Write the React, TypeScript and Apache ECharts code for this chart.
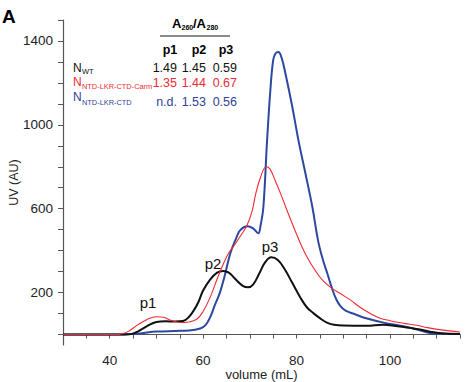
import React, { useEffect, useRef } from "react";
import * as echarts from "echarts";

const FONT = "'Liberation Sans', Arial, Helvetica, sans-serif";

// Series: [volume (mL), UV (AU)]
const wtData: [number, number][] = [
  [30, 0], [40, 0], [43.5, 0], [44.8, 3], [46, 14], [48, 40], [50, 60], [52, 63], [54, 62],
  [55.7, 64], [57, 85], [58, 115], [59, 155], [60, 210], [61.5, 262], [63, 295], [64.3, 303],
  [65.5, 295], [67, 262], [68.5, 232], [69.6, 225], [70.7, 238], [72, 290], [73.3, 345],
  [74.6, 368], [76, 355], [77.5, 310], [79, 250], [80.8, 177], [82.2, 130], [83.6, 102],
  [85, 78], [86.5, 57], [88, 47], [90, 43], [95, 42], [98.5, 47], [100, 44], [103, 36],
  [105, 29], [107, 22], [109, 12], [111, 6], [115, 3],
];

const carmData: [number, number][] = [
  [30, 0], [41, 0], [42.5, 3], [44, 15], [46, 46], [48, 72], [50, 85], [51.5, 82], [53, 68],
  [55, 57], [57, 60], [58.7, 74], [60, 110], [61.5, 177], [63, 265], [64.3, 335], [65.5, 390],
  [66.5, 420], [68, 470], [69.4, 521], [70.5, 590], [71.3, 674], [72.3, 750], [73.5, 800],
  [74.3, 790], [75.4, 736], [76.8, 660], [78.2, 578], [79.7, 495], [81.2, 416], [82.6, 355],
  [84, 306], [85.6, 258], [87.6, 220], [89.4, 195], [91.5, 165], [93.6, 130], [95.8, 100],
  [97.9, 78], [100, 66], [102, 57], [104, 50], [105.8, 44], [108, 33], [111, 22], [115, 12],
];

const ctdData: [number, number][] = [
  [30, 0], [42, 0], [44, 2], [46.5, 5], [48, 10], [50, 14], [54, 17], [57, 19], [59.4, 29],
  [60.5, 45], [61.5, 82], [62.5, 140], [63.6, 200], [64.5, 270], [65.8, 385], [67, 455],
  [67.9, 497], [69.5, 516], [70.7, 506], [71.8, 483], [72.3, 520], [72.9, 607], [73.7, 927],
  [74.4, 1166], [75, 1309], [75.5, 1340], [76.1, 1347], [76.8, 1320], [77.6, 1247], [79.1, 1085],
  [80.4, 927], [81.9, 769], [83.4, 607], [84.6, 449], [85.6, 360], [86.6, 291], [87.6, 220],
  [88.5, 168], [89.4, 135], [90.5, 114], [92.1, 100], [95.1, 76], [99.4, 53], [102, 43],
  [105, 29], [106.8, 18], [108, 10], [110, 5], [115, 2],
];

const xTickValues = [30, 35, 40, 45, 50, 55, 60, 65, 70, 75, 80, 85, 90, 95, 100, 105, 110, 115];
const xLabelValues = [40, 60, 80, 100];
const yTickValues = [0, 100, 200, 300, 400, 500, 600, 700, 800, 900, 1000, 1100, 1200, 1300, 1400, 1500];
const yLabelValues = [200, 600, 1000, 1400];

const peakLabels = ["p1", "p2", "p3"];
const ratioHeaders = ["p1", "p2", "p3"];
const wtRatios = ["1.49", "1.45", "0.59"];
const carmRatios = ["1.35", "1.44", "0.67"];
const ctdRatios = ["n.d.", "1.53", "0.56"];

const BLACK = "#111111";
const RED = "#ee2b33";
const BLUE = "#2c48a0";
const BLUE_TXT = "#2f3f9c";

export default function App() {
  const ref = useRef<HTMLDivElement>(null);

  useEffect(() => {
    document.body.style.margin = "0";
    if (!ref.current) return;
    const chart = echarts.init(ref.current, undefined, { renderer: "svg" });

    const t = (x: number, y: number, text: string, size: number, color: string, extra: any = {}) => ({
      type: "text",
      x,
      y,
      style: {
        text,
        fontSize: size,
        fontFamily: FONT,
        fill: color,
        textAlign: "left",
        textVerticalAlign: "middle",
        ...extra,
      },
    });

    const colRight = [177, 206, 237];
    const row = (vals: string[], y: number, color: string) =>
      vals.map((v, i) => t(colRight[i], y, v, 12.5, color, { textAlign: "right" }));

    const graphics: any[] = [
      t(2, 16, "A", 19, "#000", { fontWeight: "bold" }),
      // header A260/A280
      t(172, 23, "A", 13, "#000", { fontWeight: "bold" }),
      t(181.5, 27, "260", 7, "#000", { fontWeight: "bold" }),
      t(193, 23, "/A", 13, "#000", { fontWeight: "bold" }),
      t(206.5, 27, "280", 7, "#000", { fontWeight: "bold" }),
      { type: "line", shape: { x1: 160, y1: 36, x2: 230, y2: 36 }, style: { stroke: "#666", lineWidth: 1.3 } },
      t(170, 50, ratioHeaders[0], 12.5, "#000", { fontWeight: "bold", textAlign: "center" }),
      t(199, 50, ratioHeaders[1], 12.5, "#000", { fontWeight: "bold", textAlign: "center" }),
      t(226, 50, ratioHeaders[2], 12.5, "#000", { fontWeight: "bold", textAlign: "center" }),
      // rows
      t(73, 68, "N", 12, BLACK),
      t(82, 71.5, "WT", 7.5, BLACK),
      ...row(wtRatios, 67.5, BLACK),
      t(73, 81.5, "N", 12, RED),
      t(82, 86.5, "NTD-LKR-CTD-Carm", 7.4, RED),
      ...row(carmRatios, 82.5, RED),
      t(73, 96.8, "N", 12, BLUE_TXT),
      t(82, 102, "NTD-LKR-CTD", 7.4, BLUE_TXT),
      ...row(ctdRatios, 101.5, BLUE_TXT),
      // peak labels
      t(148, 302, peakLabels[0], 15, "#111", { textAlign: "center" }),
      t(213, 263, peakLabels[1], 15, "#111", { textAlign: "center" }),
      t(270, 246, peakLabels[2], 15, "#111", { textAlign: "center" }),
    ];

    const axisColor = "#555";
    chart.setOption({
      animation: false,
      backgroundColor: "#ffffff",
      grid: { left: 63, top: 20, right: 6, bottom: 37, containLabel: false, outerBoundsMode: "none" },
      xAxis: {
        type: "value",
        min: 30,
        max: 115,
        name: "volume (mL)",
        nameLocation: "middle",
        nameGap: 23,
        nameMoveOverlap: false,
        nameTextStyle: { fontSize: 13, fontFamily: FONT, color: "#222" },
        axisLine: { show: true, lineStyle: { color: axisColor, width: 1.2 } },
        axisTick: { show: true, length: 4, lineStyle: { color: axisColor }, customValues: xTickValues },
        axisLabel: {
          customValues: xLabelValues, fontSize: 13.5, fontFamily: FONT, color: "#222", margin: 8,
          formatter: (v: number) => String(v),
        },
        splitLine: { show: false },
      },
      yAxis: {
        type: "value",
        min: -50,
        max: 1500,
        name: "UV (AU)",
        nameLocation: "middle",
        nameGap: 43,
        nameMoveOverlap: false,
        nameTextStyle: { fontSize: 12.5, fontFamily: FONT, color: "#222" },
        axisLine: { show: true, lineStyle: { color: axisColor, width: 1.2 } },
        axisTick: { show: true, length: 5, lineStyle: { color: axisColor }, customValues: yTickValues },
        axisLabel: {
          customValues: yLabelValues, fontSize: 13.5, fontFamily: FONT, color: "#222", margin: 10,
          formatter: (v: number) => String(v),
        },
        splitLine: { show: false },
      },
      series: [
        {
          name: "NWT", type: "line", data: wtData, smooth: 0.4, showSymbol: false,
          lineStyle: { color: BLACK, width: 2 }, z: 3,
        },
        {
          name: "NNTD-LKR-CTD-Carm", type: "line", data: carmData, smooth: 0.4, showSymbol: false,
          lineStyle: { color: RED, width: 1.1 }, z: 4,
        },
        {
          name: "NNTD-LKR-CTD", type: "line", data: ctdData, smooth: 0.4, showSymbol: false,
          lineStyle: { color: BLUE, width: 2 }, z: 2,
        },
      ],
      graphic: graphics,
    });

    return () => chart.dispose();
  }, []);

  return <div ref={ref} style={{ width: 466, height: 382 }} />;
}
